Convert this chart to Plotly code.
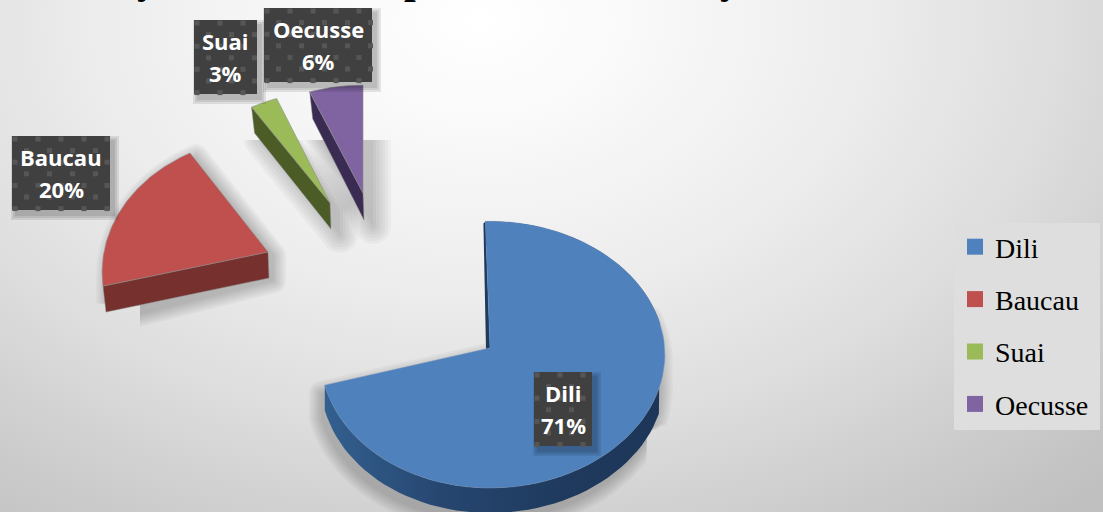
import numpy as np
import plotly.graph_objects as go

# ---- data ----
regions = ["Dili", "Baucau", "Suai", "Oecusse"]
percent = [71, 20, 3, 6]
title_fragments = ["y", "p", "y"]   # only the descenders of the cropped title are visible

# ---- style / layout ----
W, H = 1103, 512
top_colors = ["#4F81BD", "#C0504D", "#9BBB59", "#8064A2"]
wall_colors = ["#274a78", "#76302e", "#4b5c27", "#3a2b52"]
# apex x, apex y, rx, ry, perspective, wall height, rotation in degrees, left/right skew
geom = [
    (490, 348, 172, 133, 0.05, 25, -1.6, 0.015),
    (268, 252, 164, 132, 0.15, 26, 0, 0),
    (330, 203, 165, 128, 0.15, 26, 0, 0),
    (363, 193, 165, 124, 0.15, 27, 0, 0),
]
label_boxes = [(534, 372, 592, 446), (12, 136, 110, 210), (194, 20, 257, 94), (264, 8, 372, 82)]
title_x = [147, 415, 730]

fig = go.Figure()


def poly(x, y, color, line=None, lw=0, grad=None):
    kw = dict(fillgradient=grad) if grad else dict(fillcolor=color)
    fig.add_trace(go.Scatter(
        x=list(x), y=list(y), mode="lines", fill="toself",
        line=dict(color=line or "rgba(0,0,0,0)", width=lw),
        hoverinfo="skip", showlegend=False, **kw))


def hull(pts):
    pts = sorted(set(map(tuple, np.round(pts, 2))))

    def half(seq):
        out = []
        for p in seq:
            while len(out) > 1 and (out[-1][0]-out[-2][0])*(p[1]-out[-2][1]) - (out[-1][1]-out[-2][1])*(p[0]-out[-2][0]) <= 0:
                out.pop()
            out.append(p)
        return out[:-1]
    return np.array(half(pts) + half(pts[::-1]))


def grown(x, y, r):
    pts = np.c_[x, y]
    if r > 0:
        a = np.linspace(0, 2 * np.pi, 24, endpoint=False)
        pts = np.concatenate([pts + r * np.c_[np.cos(t) * np.ones(len(pts)), np.sin(t) * np.ones(len(pts))] for t in a])
    return hull(pts)


# background: off-centre radial gradient
cx, cy, hw, hh = 480, 20, 900, 640
poly([cx-hw, cx+hw, cx+hw, cx-hw, cx-hw], [cy-hh, cy-hh, cy+hh, cy+hh, cy-hh], "#eee",
     grad=dict(type="radial", colorscale=[[0, "#ffffff"], [0.15, "#fafafa"], [0.42, "#ededed"],
                                          [0.64, "#dedede"], [0.8, "#d0d0d0"], [1, "#c0c0c0"]]))

# slice outlines computed from the values
edges = np.cumsum([0] + percent) / sum(percent) * 2 * np.pi


def arc(i, n=90):
    ax, ay, rx, ry, p, _, rot, skew = geom[i]
    t = np.linspace(edges[i], edges[i + 1], n) + np.radians(rot)
    d = 1 + p * np.cos(t)
    return ax + rx * np.sin(t) * (1 + skew * np.sin(t)) / d, ay - ry * np.cos(t) / d


# soft shadows: stacked translucent offset hulls
offsets = [(-4, 8), (6, 3), (10, 6), (10, 6)]
radii = [[0, 2, 4, 6, 8, 10, 12], [0, 2, 4, 6, 8, 10, 12], [0, 3, 6, 9, 12, 15, 18], [0, 3, 6, 9, 12, 15, 18]]
for i in range(4):
    ax, ay = geom[i][:2]
    h = geom[i][5]
    ux, uy = arc(i)
    if i == 0:
        keep = np.arange(len(ux)) > 25
        bx = np.r_[ux[keep], ux[keep]]
        by = np.r_[uy[keep], uy[keep] + h]
    else:
        bx = np.r_[ax, ax, ux, ux]
        by = np.r_[ay, ay + h, uy, uy + h]
    bx = bx + offsets[i][0]
    by = by + offsets[i][1]
    for r in radii[i]:
        g = grown(bx, by, r)
        sx, sy = g[:, 0], g[:, 1]
        if i == 0:
            sx = np.where(sy > 430, np.minimum(sx, 647), sx)
        if i == 1:
            sx = np.where(sy > 305, np.maximum(sx, 140), sx)
        if i in (2, 3):
            sy = np.maximum(sy, 140)
        poly(np.r_[sx, sx[0]], np.r_[sy, sy[0]], "rgba(0,0,0,0.03)")

# legend panel
poly([954, 1100, 1100, 954, 954], [223, 223, 430, 430, 223], "#dedede")

# Dili: thin inner wall, curved outer wall, top
ux, uy = arc(0)
ax, ay = geom[0][:2]
h = geom[0][5]
poly([ux[0], ax, ax - 4, ux[0] - 2], [uy[0], ay, ay + 1, uy[0] + 2], "#1f3a5f")
vis = ux <= 660
poly(np.r_[ux[vis], ux[vis][::-1]], np.r_[uy[vis], uy[vis][::-1] + h], wall_colors[0],
     grad=dict(type="horizontal", start=325, stop=660,
               colorscale=[[0, "#33608f"], [0.35, "#264670"], [0.7, "#1f3a5e"], [1, "#1d3658"]]))
poly(np.r_[ax, ux, ax], np.r_[ay, uy, ay], top_colors[0], line="#6f8fb8", lw=0.5)

# exploded slices: straight wall along the visible radial edge, then top
for i in [1, 2, 3]:
    ax, ay = geom[i][:2]
    h = geom[i][5]
    ux, uy = arc(i)
    poly([ux[0], ax, ax + 1, ux[0] + 3, ux[0]], [uy[0], ay, ay + h, uy[0] + h, uy[0]], wall_colors[i], line="#8a8a8a", lw=0.5)
    poly(np.r_[ax, ux, ax], np.r_[ay, uy, ay], top_colors[i], line="#8c8c8c", lw=0.6)

# data labels
for i, (x0, y0, x1, y1) in enumerate(label_boxes):
    for e in [5, 3, 1]:
        poly([x0 + 4 - e, x1 + 4 + e, x1 + 4 + e, x0 + 4 - e, x0 + 4 - e],
             [y0 + 5 - e, y0 + 5 - e, y1 + 5 + e, y1 + 5 + e, y0 + 5 - e], "rgba(0,0,0,0.09)")
    poly([x0, x1, x1, x0, x0], [y0, y0, y1, y1, y0], "#404040")
    dx, dy = [], []
    for r, yy in enumerate(np.arange(y0 + 3, y1, 11.6)):
        start = x0 + (3 if r % 2 == 0 else 14.5)
        for xx in np.arange(start, x1 - 1, 23):
            dx.append(xx)
            dy.append(yy)
    fig.add_trace(go.Scatter(x=dx, y=dy, mode="markers", hoverinfo="skip", showlegend=False,
                             marker=dict(symbol="square", size=5, color="#565656", line=dict(width=0))))
    xm = (x0 + x1) / 2
    for yy, txt in [((y0 * 0.72 + y1 * 0.28), regions[i]), ((y0 * 0.28 + y1 * 0.72), f"{percent[i]}%")]:
        fig.add_annotation(x=xm, y=yy, text=f"<b>{txt}</b>", showarrow=False, xanchor="center", yanchor="middle",
                           font=dict(family="Open Sans", size=22, color="#ffffff"))

# legend
for i, name in enumerate(regions):
    fig.add_trace(go.Scatter(x=[None], y=[None], mode="markers", name=name, legendgroup=name,
                             marker=dict(symbol="square", size=16, color=top_colors[i])))

# clipped title: only descenders enter the picture
for tx, tt in zip(title_x, title_fragments):
    fig.add_annotation(x=tx, y=0, text=f"<b>{tt}</b>", showarrow=False, xanchor="center", yanchor="middle",
                       yshift=21, font=dict(family="Liberation Serif", size=42, color="#000000"))

fig.update_layout(
    width=W, height=H, margin=dict(l=0, r=0, t=0, b=0, pad=0), autosize=False,
    paper_bgcolor="#e8e8e8", plot_bgcolor="#e8e8e8",
    xaxis=dict(range=[0, W], visible=False, fixedrange=True),
    yaxis=dict(range=[H, 0], visible=False, fixedrange=True),
    hovermode=False,
    legend=dict(x=955 / W, y=1 - 222 / H, xanchor="left", yanchor="top", bgcolor="rgba(0,0,0,0)",
                font=dict(family="Liberation Serif", size=28, color="#000000"),
                tracegroupgap=13, itemsizing="trace", itemwidth=30, traceorder="grouped",
                entrywidth=104, entrywidthmode="pixels"),
)
fig.write_html("out.html", config=dict(displayModeBar=False), default_width=W, default_height=H,
               post_script="document.body.style.margin='0';document.documentElement.style.overflow='hidden';")
